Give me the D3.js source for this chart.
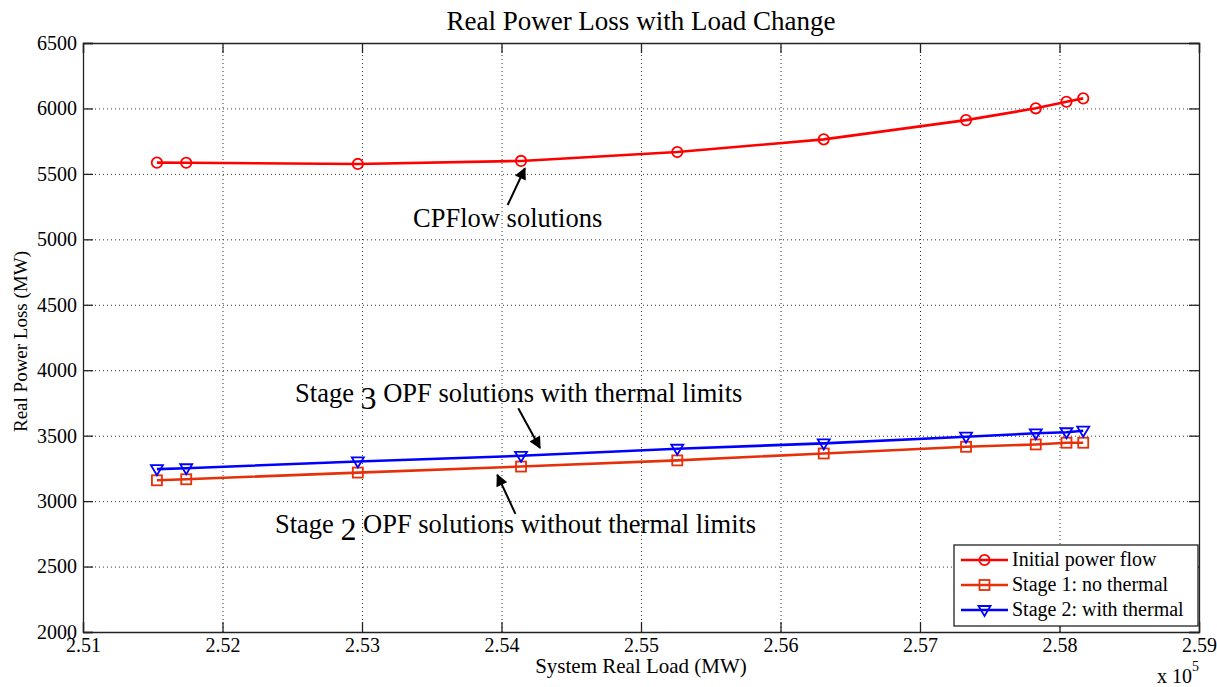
<!DOCTYPE html>
<html>
<head>
<meta charset="utf-8">
<script src="https://cdn.jsdelivr.net/npm/d3@7"></script>
<style>
  body { margin: 0; background: #fff; }
  svg text { font-family: "Liberation Serif", "Times New Roman", serif; fill: #000; }
  .grid line { stroke: #333; stroke-dasharray: 1,3; stroke-width: 1; }
  .grid path { display: none; }
</style>
</head>
<body>
<svg id="chart" width="1217" height="687"></svg>
<script>
// system real load, in units of 1e5 MW
var loadX = [2.5153, 2.5174, 2.5297, 2.5414, 2.5526, 2.5631, 2.5733, 2.5783, 2.5805, 2.5817];
var initialFlow = [5586, 5585, 5576, 5599, 5667, 5764, 5911, 6001, 6051, 6077];
var stage1 = [3159, 3167, 3218, 3264, 3311, 3364, 3415, 3433, 3446, 3446];
var stage2 = [3244, 3251, 3303, 3346, 3400, 3441, 3492, 3518, 3526, 3538];
var xTicks = [2.51, 2.52, 2.53, 2.54, 2.55, 2.56, 2.57, 2.58, 2.59];
var yTicks = [2000, 2500, 3000, 3500, 4000, 4500, 5000, 5500, 6000, 6500];
var legendNames = ['Initial power flow', 'Stage 1: no thermal', 'Stage 2: with thermal'];

// text notes with arrows (data coordinates)
var notes = [
    {pre: 'CPFlow solutions', big: '', post: '', tx: 2.53366, ty: 5097, ax: [2.54044, 5262], at: [2.54168, 5543]},
    {pre: 'Stage ', big: '3', post: ' OPF solutions with thermal limits', tx: 2.5252, ty: 3757, ax: [2.5412, 3709], at: [2.54276, 3406]},
    {pre: 'Stage ', big: '2', post: ' OPF solutions without thermal limits', tx: 2.52376, ty: 2756, ax: [2.5410, 2902], at: [2.5397, 3200]}
];

var svg = d3.select('#chart');
var plotLeft = 83, plotRight = 1199, plotTop = 43, plotBottom = 632;
var serif = '"Liberation Serif", "Times New Roman", serif';

var x = d3.scaleLinear().domain([2.51, 2.59]).range([plotLeft, plotRight]);
var y = d3.scaleLinear().domain([2000, 6500]).range([plotBottom, plotTop]);

// GRID
svg.append('g').attr('class', 'grid')
    .attr('transform', 'translate(0,' + plotBottom + ')')
    .call(d3.axisBottom(x).tickValues(xTicks.slice(1, -1)).tickSize(-(plotBottom - plotTop)).tickFormat(''));
svg.append('g').attr('class', 'grid')
    .attr('transform', 'translate(' + plotLeft + ',0)')
    .call(d3.axisLeft(y).tickValues(yTicks.slice(1, -1)).tickSize(-(plotRight - plotLeft)).tickFormat(''));

// AXES
var fmt = d3.format('.2f');
var gx = svg.append('g').attr('transform', 'translate(0,' + plotBottom + ')')
    .call(d3.axisBottom(x).tickValues(xTicks).tickSize(-10).tickPadding(6).tickFormat(fmt));
var gy = svg.append('g').attr('transform', 'translate(' + plotLeft + ',0)')
    .call(d3.axisLeft(y).tickValues(yTicks).tickSize(-10).tickPadding(6).tickFormat(d3.format('d')));
var gt = svg.append('g').attr('transform', 'translate(0,' + plotTop + ')')
    .call(d3.axisTop(x).tickValues(xTicks).tickSize(-10).tickFormat(''));
var gr = svg.append('g').attr('transform', 'translate(' + plotRight + ',0)')
    .call(d3.axisRight(y).tickValues(yTicks).tickSize(-10).tickFormat(''));

[gx, gy, gt, gr].forEach(function (g) {
    g.attr('font-family', serif).attr('font-size', 20);
    g.selectAll('path').attr('stroke', '#222').attr('stroke-width', 1.3);
    g.selectAll('line').attr('stroke', '#222').attr('stroke-width', 1.3);
    g.selectAll('text').style('font-size', '20px').style('font-family', serif).attr('fill', '#000');
});

// SERIES
var line = d3.line()
    .x(function (d) { return x(d[0]); })
    .y(function (d) { return y(d[1]); });

var series = [
    {vals: initialFlow, color: '#ff0000', marker: 'circle'},
    {vals: stage1, color: '#e5300a', marker: 'square'},
    {vals: stage2, color: '#0000ff', marker: 'triangle'}
];

function drawMarker(g, kind, color, cx, cy) {
    if (kind === 'circle') {
        g.append('circle').attr('cx', cx).attr('cy', cy).attr('r', 5.2)
            .attr('fill', 'none').attr('stroke', color).attr('stroke-width', 1.8);
    } else if (kind === 'square') {
        g.append('rect').attr('x', cx - 5).attr('y', cy - 5).attr('width', 10).attr('height', 10)
            .attr('fill', 'none').attr('stroke', color).attr('stroke-width', 1.8);
    } else {
        g.append('path').attr('d', 'M' + (cx - 6) + ',' + (cy - 4) + 'L' + (cx + 6) + ',' + (cy - 4) + 'L' + cx + ',' + (cy + 6) + 'Z')
            .attr('fill', 'none').attr('stroke', color).attr('stroke-width', 1.8);
    }
}

series.forEach(function (s) {
    var pts = loadX.map(function (v, i) { return [v, s.vals[i]]; });
    svg.append('path').datum(pts)
        .attr('d', line)
        .attr('fill', 'none')
        .attr('stroke', s.color)
        .attr('stroke-width', 2.6);
    var mg = svg.append('g');
    pts.forEach(function (p) {
        drawMarker(mg, s.marker, s.color, x(p[0]), y(p[1]));
    });
});

// ANNOTATIONS
svg.append('defs').append('marker')
    .attr('id', 'arrowHead')
    .attr('viewBox', '0 0 10 10')
    .attr('refX', 9).attr('refY', 5)
    .attr('markerWidth', 7).attr('markerHeight', 6)
    .attr('markerUnits', 'strokeWidth')
    .attr('orient', 'auto')
    .append('path').attr('d', 'M0,0L10,5L0,10Z').attr('fill', '#000');

notes.forEach(function (n) {
    var t = svg.append('text')
        .attr('x', x(n.tx)).attr('y', y(n.ty))
        .style('font-size', '26.5px');
    t.append('tspan').text(n.pre);
    if (n.big) {
        t.append('tspan').attr('dy', 7).style('font-size', '32px').text(n.big);
        t.append('tspan').attr('dy', -7).text(n.post);
    }
    svg.append('line')
        .attr('x1', x(n.ax[0])).attr('y1', y(n.ax[1]))
        .attr('x2', x(n.at[0])).attr('y2', y(n.at[1]))
        .attr('stroke', '#000').attr('stroke-width', 2)
        .attr('marker-end', 'url(#arrowHead)');
});

// TITLE AND LABELS
svg.append('text').attr('x', (plotLeft + plotRight) / 2).attr('y', 30)
    .attr('text-anchor', 'middle').style('font-size', '27px')
    .text('Real Power Loss with Load Change');
svg.append('text').attr('x', (plotLeft + plotRight) / 2).attr('y', 673)
    .attr('text-anchor', 'middle').style('font-size', '21px')
    .text('System Real Load (MW)');
svg.append('text')
    .attr('transform', 'translate(27,' + ((plotTop + plotBottom) / 2 + 4) + ') rotate(-90)')
    .attr('text-anchor', 'middle').style('font-size', '19px')
    .text('Real Power Loss (MW)');
var expo = svg.append('text').attr('x', 1157).attr('y', 683).style('font-size', '20px');
expo.append('tspan').text('x 10');
expo.append('tspan').attr('dy', -12).style('font-size', '14px').text('5');

// LEGEND
var lg = svg.append('g');
lg.append('rect').attr('x', 954).attr('y', 545).attr('width', 244).attr('height', 81)
    .attr('fill', '#fff').attr('stroke', '#222').attr('stroke-width', 1.3);
series.forEach(function (s, i) {
    var ry = 560 + i * 25;
    lg.append('line').attr('x1', 961).attr('x2', 1008).attr('y1', ry).attr('y2', ry)
        .attr('stroke', s.color).attr('stroke-width', 2.6);
    drawMarker(lg, s.marker, s.color, 984.5, ry);
    lg.append('text').attr('x', 1012).attr('y', ry + 6).style('font-size', '20px').text(legendNames[i]);
});
</script>
</body>
</html>
